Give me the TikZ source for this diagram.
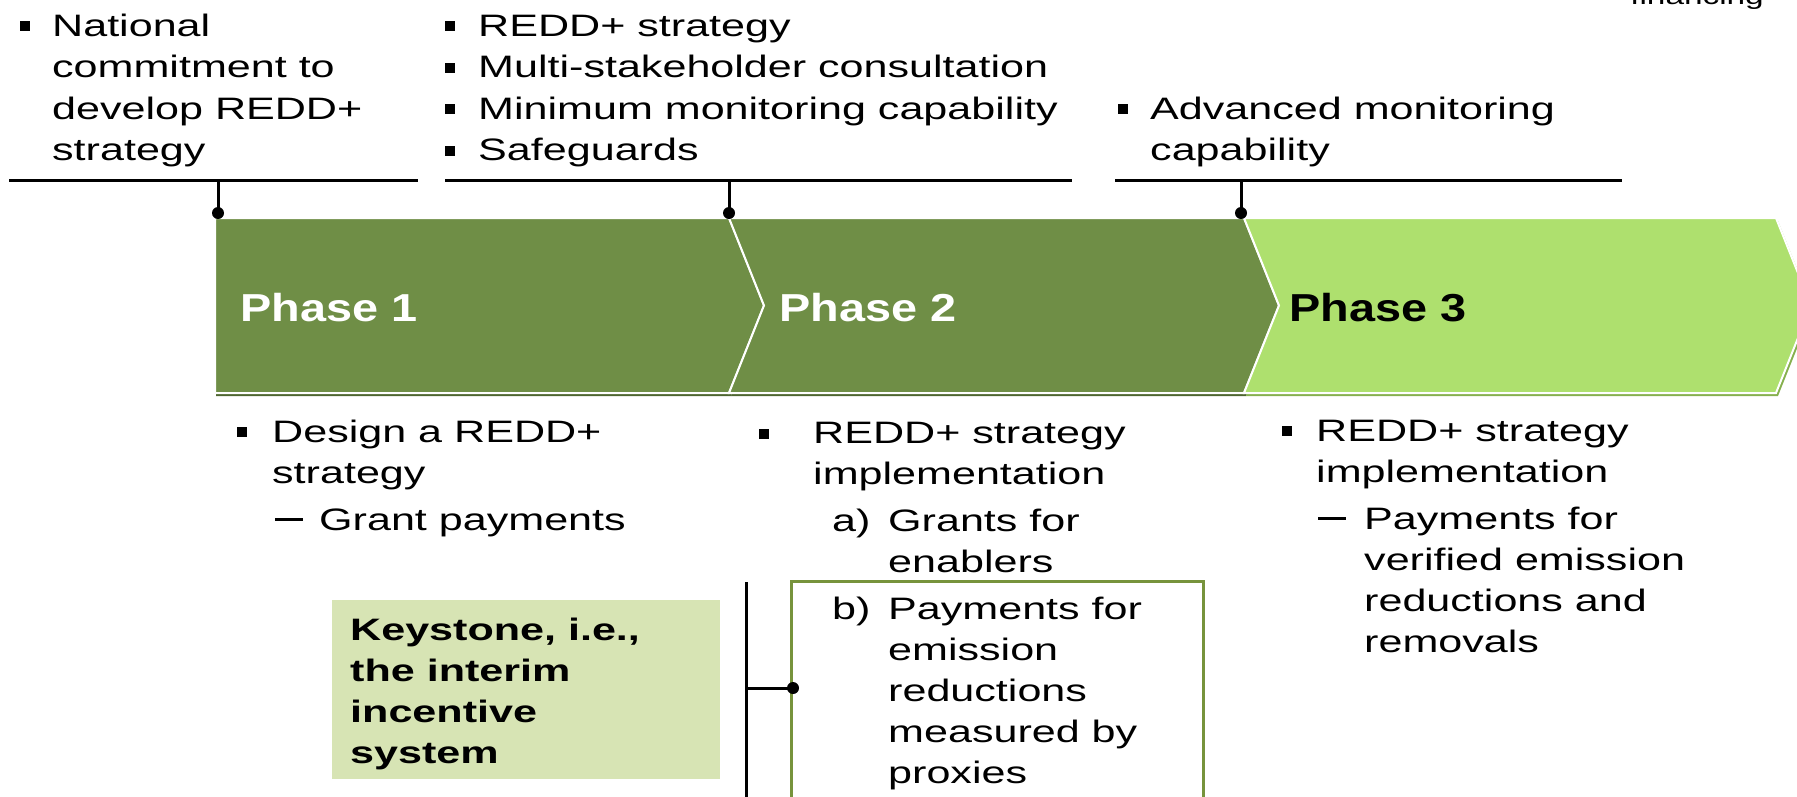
\documentclass[tikz,border=0pt]{standalone}
\usepackage{fontspec}
\setmainfont{Liberation Sans}[FakeStretch=1.39]
\newfontfamily\phasefont{Liberation Sans}[FakeStretch=1.2]
\definecolor{dkgreen}{HTML}{6F8E46}
\definecolor{dkshadow}{HTML}{4E6630}
\definecolor{ltgreen}{HTML}{AEE06E}
\definecolor{ltshadow}{HTML}{86B04E}
\definecolor{keyfill}{HTML}{D7E4B4}
\definecolor{boxline}{HTML}{77933C}
\newcommand\sqbul{\rule[5pt]{10pt}{10pt}}
\newcommand\dashmark{\rule[9pt]{28pt}{2.6pt}}
% note: multi-line nodes are anchored at the baseline of their LAST line
\tikzset{
  txt/.style={anchor=base west, inner sep=0pt, align=left, font=\fontsize{31}{41.5}\selectfont},
  txtb/.style={anchor=base west, inner sep=0pt, align=left, font=\fontsize{31}{41}\selectfont},
  phaselbl/.style={anchor=base west, inner sep=0pt, font=\phasefont\bfseries\fontsize{39}{44}\selectfont},
  keytxt/.style={anchor=base west, inner sep=0pt, align=left, font=\bfseries\fontsize{31}{41}\selectfont},
  rulel/.style={line width=3pt, black},
  chev/.style={draw=white, line width=2pt},
  dotc/.style={fill=black},
}
\begin{document}
\begin{tikzpicture}[x=1pt,y=-1pt]
\useasboundingbox (0,0) rectangle (1797,796);
\clip (0,0) rectangle (1797,796);

% chevron shadows
\fill[dkshadow] (216,221) -- (731,221) -- (766,308.5) -- (731,396) -- (216,396) -- cycle;
\fill[dkshadow] (731,221) -- (1246,221) -- (1281,308.5) -- (1246,396) -- (731,396) -- (766,308.5) -- cycle;
\fill[ltshadow] (1246,221) -- (1778,221) -- (1813,308.5) -- (1778,396) -- (1246,396) -- (1281,308.5) -- cycle;
% chevrons
\path[chev, fill=dkgreen] (215,218) -- (729,218) -- (764,305.5) -- (729,393) -- (215,393) -- cycle;
\path[chev, fill=dkgreen] (729,218) -- (1244,218) -- (1279,305.5) -- (1244,393) -- (729,393) -- (764,305.5) -- cycle;
\path[chev, fill=ltgreen] (1244,218) -- (1776,218) -- (1811,305.5) -- (1776,393) -- (1244,393) -- (1279,305.5) -- cycle;

\node[phaselbl, text=white] (p1) at (240,321) {Phase 1};
\node[phaselbl, text=white] (p2) at (779,321) {Phase 2};
\node[phaselbl, text=black] (p3) at (1289,321) {Phase 3};

% top rules and ticks
\coordinate (l1a) at (9,180);    \coordinate (l1b) at (418,180);
\coordinate (l2a) at (445,180);  \coordinate (l2b) at (1072,180);
\coordinate (l3a) at (1115,180); \coordinate (l3b) at (1622,180);
\draw[rulel] (l1a) -- (l1b);
\draw[rulel] (l2a) -- (l2b);
\draw[rulel] (l3a) -- (l3b);
\coordinate (t1) at (218,180);  \coordinate (d1) at (218,213);
\coordinate (t2) at (729,180);  \coordinate (d2) at (729,213);
\coordinate (t3) at (1241,180); \coordinate (d3) at (1241,213);
\draw[rulel] (t1) -- (d1); \fill[dotc] (d1) circle (6);
\draw[rulel] (t2) -- (d2); \fill[dotc] (d2) circle (6);
\draw[rulel] (t3) -- (d3); \fill[dotc] (d3) circle (6);

% top texts
\node[txt] (ta) at (20,160.5) {\makebox[32pt][l]{\sqbul}National\\
  \hspace*{32pt}commitment to\\
  \hspace*{32pt}develop REDD+\\
  \hspace*{32pt}strategy};
\node[txt] (tb) at (445,160.5) {\makebox[33pt][l]{\sqbul}REDD+ strategy\\
  \makebox[33pt][l]{\sqbul}Multi-stakeholder consultation\\
  \makebox[33pt][l]{\sqbul}Minimum monitoring capability\\
  \makebox[33pt][l]{\sqbul}Safeguards};
\node[txt] (tc) at (1118,160.5) {\makebox[32pt][l]{\sqbul}Advanced monitoring\\
  \hspace*{32pt}capability};
\node[anchor=base east, inner sep=0pt, font=\fontsize{24}{28}\selectfont] (fin) at (1764,4) {financing};

% keystone box and bracket
\fill[keyfill] (332,600) rectangle (720,779);
\node[keytxt] (key) at (350,763) {Keystone, i.e.,\\the interim\\incentive\\system};
\draw[line width=3pt, boxline] (791,581) rectangle (1203,815);
\coordinate (bt) at (746,582); \coordinate (bb) at (746,800);
\coordinate (bm) at (746,688); \coordinate (bd) at (793,688);
\draw[rulel] (bt) -- (bb);
\draw[rulel] (bm) -- (bd);
\fill[dotc] (bd) circle (6);

% bottom texts
\node[txtb] (td) at (237,530) {\makebox[35pt][l]{\sqbul}Design a REDD+\\
  \hspace*{35pt}strategy\\[6pt]
  \hspace*{38pt}\makebox[44pt][l]{\dashmark}Grant payments};
\node[txtb] (te) at (759,783.5) {\makebox[54pt][l]{\sqbul}REDD+ strategy\\
  \hspace*{54pt}implementation\\[6pt]
  \hspace*{73pt}\makebox[56pt][l]{a)}Grants for\\
  \hspace*{129pt}enablers\\[6pt]
  \hspace*{73pt}\makebox[56pt][l]{b)}Payments for\\
  \hspace*{129pt}emission\\
  \hspace*{129pt}reductions\\
  \hspace*{129pt}measured by\\
  \hspace*{129pt}proxies};
\node[txtb] (tf) at (1282,652) {\makebox[34pt][l]{\sqbul}REDD+ strategy\\
  \hspace*{34pt}implementation\\[6pt]
  \hspace*{36pt}\makebox[46pt][l]{\dashmark}Payments for\\
  \hspace*{82pt}verified emission\\
  \hspace*{82pt}reductions and\\
  \hspace*{82pt}removals};
\end{tikzpicture}
\end{document}
